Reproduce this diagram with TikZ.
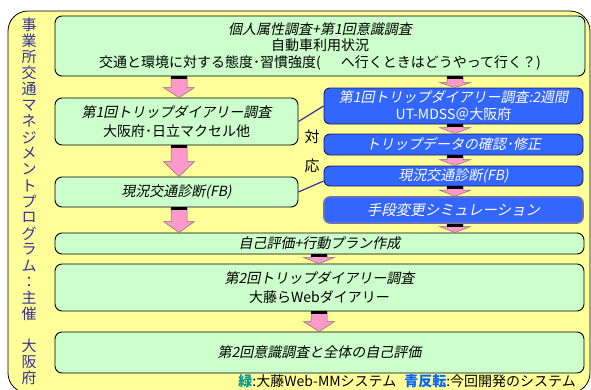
\documentclass[tikz,border=0pt]{standalone}
\usepackage{fontspec}
\setmainfont{Noto Sans CJK JP}
\newfontfamily\itf{Noto Sans CJK JP}[FakeSlant=0.2]
\usetikzlibrary{calc}
\definecolor{ybg}{HTML}{FFFF99}
\definecolor{gfill}{HTML}{CCFFCC}
\definecolor{pinkar}{HTML}{FF99CC}
\definecolor{bfill}{HTML}{3366FF}
\definecolor{bborder}{HTML}{1A1A66}
\definecolor{navy}{HTML}{333399}
\definecolor{tealc}{HTML}{009999}
\definecolor{lblue}{HTML}{0066FF}
\newcommand\fsA{\fontsize{14}{16.5}\selectfont}
\newcommand\fsB{\fontsize{14}{19.5}\selectfont}
\newcommand\fsC{\fontsize{14}{17}\selectfont}
\tikzset{
  frame/.style={draw=black, line width=0.8pt, fill=ybg, rounded corners=20pt, inner sep=0pt},
  gbox/.style={draw=black, line width=0.9pt, fill=gfill, rounded corners=7pt, inner sep=0pt, align=center, font=\fsB},
  bbox/.style={draw=bborder, line width=0.9pt, fill=bfill, rounded corners=6pt, inner sep=0pt, align=center, text=white, font=\fsC},
  arrowst/.style={fill=pinkar, draw=black!55, line width=0.5pt},
  conn/.style={draw=navy, line width=1.2pt},
  plain/.style={inner sep=0pt},
  vtch/.style={inner sep=0pt, text=navy, font={\fontsize{15}{16}\selectfont}}
}
\newcommand\barr[4]{%
  \draw[arrowst] let \p1=(#1,0 |- #2.south), \p2=(#1,0 |- #3.north) in
    (\x1-8pt,\y1) -- (\x1+8pt,\y1) -- (\x1+8pt,\y2+#4pt) -- (\x1+15.5pt,\y2+#4pt)
    -- (\x1,\y2) -- (\x1-15.5pt,\y2+#4pt) -- (\x1-8pt,\y2+#4pt) -- cycle;
  \fill[black] let \p1=(#1,0 |- #2.south) in (\x1-8pt,\y1) rectangle (\x1+8pt,\y1-3pt);
}
\begin{document}
\begin{tikzpicture}[x=1pt,y=-1pt]
\useasboundingbox (0,0) rectangle (591,389);
\node[frame, minimum width=582pt, minimum height=382pt] (frame) at (299,202) {};
% left vertical title
\foreach \c [count=\i from 0] in {事,業,所,交,通,マ,ネ,ジ,メ,ン,ト,プ,ロ,グ,ラ,ム,：,主,催,{},大,阪,府}
  \node[vtch] (vt\i) at (29,{25+\i*16.05}) {\c};
% green boxes
\node[gbox, font=\fsA, minimum width=530pt, minimum height=60pt] (box1) at (320,46)
 {{\itf 個人属性調査+第1回意識調査}\\自動車利用状況\\交通と環境に対する態度･習慣強度(\hspace{20pt}へ行くときはどうやって行く？)};
\node[gbox, minimum width=243pt, minimum height=47pt] (box2) at (176.5,121.5)
 {{\itf 第1回トリップダイアリー調査}\\大阪府･日立マクセル他};
\node[gbox, minimum width=243pt, minimum height=30pt] (box3) at (176.5,192)
 {{\itf 現況交通診断(FB)}};
\node[gbox, minimum width=529pt, minimum height=21pt] (box4) at (319.5,243.5)
 {{\itf 自己評価+行動プラン作成}};
\node[gbox, minimum width=529pt, minimum height=47pt] (box5) at (319.5,287.5)
 {{\itf 第2回トリップダイアリー調査}\\大藤らWebダイアリー};
\node[gbox, minimum width=529pt, minimum height=41pt] (box6) at (319.5,352.5)
 {{\itf 第2回意識調査と全体の自己評価}};
% blue boxes
\node[bbox, minimum width=259pt, minimum height=36pt] (b1) at (453.5,106)
 {{\itf 第1回トリップダイアリー調査:2週間}\\UT-MDSS＠大阪府};
\node[bbox, minimum width=259pt, minimum height=21pt] (b2) at (453.5,144.5)
 {{\itf トリップデータの確認･修正}};
\node[bbox, minimum width=259pt, minimum height=20pt] (b3) at (453.5,176)
 {{\itf 現況交通診断(FB)}};
\node[bbox, draw=navy!70, line width=1.6pt, font={\fontsize{14.5}{17}\selectfont}, minimum width=259pt, minimum height=26pt] (b4) at (453.5,210)
 {{\itf 手段変更シミュレーション}};
% block arrows
\barr{179}{box1}{box2}{10}
\barr{179}{box2}{box3}{15}
\barr{179}{box3}{box4}{11}
\barr{455}{box1}{b1}{5}
\barr{455}{b1}{b2}{6}
\barr{455}{b2}{b3}{6}
\barr{455}{b3}{b4}{6}
\barr{455}{b4}{box4}{6}
\barr{319}{box4}{box5}{6}
\barr{319}{box5}{box6}{10}
% connectors
\draw[conn] (box2.east) -- (b1.west);
\draw[conn] (box3.east) -- ([yshift=-5pt]b3.west);
\node[plain, font={\fontsize{15}{16}\selectfont}] (tai) at (312,137) {対};
\node[plain, font={\fontsize{15}{16}\selectfont}] (ou) at (312,166) {応};
% legend
\node[plain, anchor=east, font={\fontsize{14}{16}\selectfont}] (legend) at (576,381)
 {{\color{tealc}\bfseries 緑}:大藤Web-MMシステム\hspace{8pt}{\color{lblue}\bfseries 青反転}:今回開発のシステム};
\end{tikzpicture}
\end{document}
